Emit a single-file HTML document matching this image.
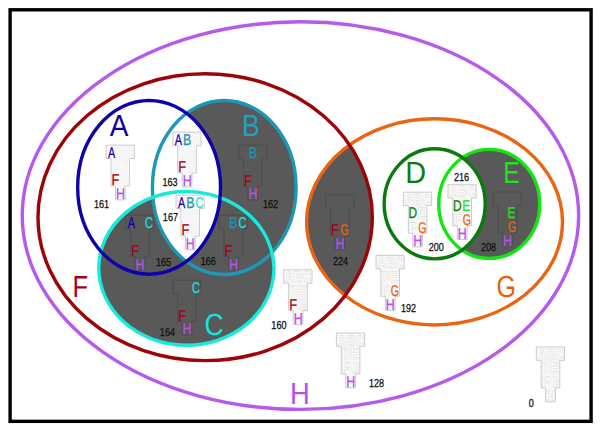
<!DOCTYPE html><html><head><meta charset="utf-8"><style>html,body{margin:0;padding:0;background:#fff;width:601px;height:432px;overflow:hidden}svg{display:block;font-family:"Liberation Sans",sans-serif;text-rendering:geometricPrecision}</style></head><body><svg width="601" height="432" viewBox="0 0 601 432">
<defs>
<clipPath id="clipA"><ellipse cx="149.1" cy="187.34" rx="71.43" ry="86.87"/></clipPath>
<clipPath id="clipF"><ellipse cx="205.16" cy="217.22" rx="167.17" ry="143.43"/></clipPath>
<clipPath id="clipD"><ellipse cx="434.67" cy="203.79" rx="50.53" ry="55.06"/></clipPath>
</defs>
<rect x="0" y="0" width="601" height="432" fill="#fff"/>
<ellipse cx="224.23" cy="187.45" rx="71.83" ry="87.02" fill="#595959"/>
<ellipse cx="186.35" cy="268.35" rx="87.54" ry="76.84" transform="rotate(0.87 186.35 268.35)" fill="#595959"/>
<g clip-path="url(#clipF)"><ellipse cx="434.57" cy="221.86" rx="127.96" ry="103.07" fill="#595959"/></g>
<ellipse cx="489.25" cy="203.95" rx="50.5" ry="54.6" fill="#595959"/>
<g clip-path="url(#clipA)"><ellipse cx="224.23" cy="187.45" rx="71.83" ry="87.02" fill="#fff"/></g>
<g clip-path="url(#clipD)"><ellipse cx="489.25" cy="203.95" rx="50.5" ry="54.6" fill="#fff"/></g>
<path d="M106.1,145.1h28.2v13.4h-4.7v27.5h-4.4v13.9h-9.7v-13.9h-4.5v-27.5h-4.9z" fill="#f7f7f7" stroke="#c6c6c6" stroke-width="0.9"/>
<g font-size="15.5" fill="#fff" stroke="#ebebeb" stroke-width="0.5" font-weight="bold" text-anchor="middle"><text transform="translate(120.5,157.6) scale(0.8,1)">B</text><text transform="translate(129.4,157.6) scale(0.7,1)">C</text><text transform="translate(115.5,171.3) scale(0.77,1)">D</text><text transform="translate(124.3,171.3) scale(0.77,1)">E</text><text transform="translate(125.0,185.4) scale(0.68,1)">G</text></g>
<g font-size="15.5" text-anchor="middle"><text fill="#1400aa" stroke="#1400aa" stroke-width="0.25" transform="translate(111.7,157.6) scale(0.7,1)">A</text><text fill="#a8001a" stroke="#a8001a" stroke-width="0.25" transform="translate(115.5,185.4) scale(0.83,1)">F</text><text fill="#b452e8" stroke="#b452e8" stroke-width="0.25" transform="translate(120.4,199.3) scale(0.8,1)">H</text></g>
<text font-size="11.6" fill="#111" stroke="#111" stroke-width="0.3" text-anchor="middle" transform="translate(101.5,207.6) scale(0.78,1)">161</text>
<path d="M172.8,132.1h28.2v13.4h-4.7v27.5h-4.4v13.9h-9.7v-13.9h-4.5v-27.5h-4.9z" fill="#f7f7f7" stroke="#c6c6c6" stroke-width="0.9"/>
<g font-size="15.5" fill="#fff" stroke="#ebebeb" stroke-width="0.5" font-weight="bold" text-anchor="middle"><text transform="translate(196.1,144.6) scale(0.7,1)">C</text><text transform="translate(182.2,158.3) scale(0.77,1)">D</text><text transform="translate(191.0,158.3) scale(0.77,1)">E</text><text transform="translate(191.7,172.4) scale(0.68,1)">G</text></g>
<g font-size="15.5" text-anchor="middle"><text fill="#1400aa" stroke="#1400aa" stroke-width="0.25" transform="translate(178.4,144.6) scale(0.7,1)">A</text><text fill="#1c93b0" stroke="#1c93b0" stroke-width="0.25" transform="translate(187.2,144.6) scale(0.8,1)">B</text><text fill="#a8001a" stroke="#a8001a" stroke-width="0.25" transform="translate(182.2,172.4) scale(0.83,1)">F</text><text fill="#b452e8" stroke="#b452e8" stroke-width="0.25" transform="translate(187.1,186.3) scale(0.8,1)">H</text></g>
<text font-size="11.6" fill="#111" stroke="#111" stroke-width="0.3" text-anchor="middle" transform="translate(170.0,185.7) scale(0.78,1)">163</text>
<path d="M238.6,145.2h28.2v13.4h-4.7v27.5h-4.4v13.9h-9.7v-13.9h-4.5v-27.5h-4.9z" fill="none" stroke="#4a4a4a" stroke-width="0.8"/>
<g font-size="15.5" text-anchor="middle"><text fill="#1c93b0" stroke="#1c93b0" stroke-width="0.25" transform="translate(253.0,157.7) scale(0.8,1)">B</text><text fill="#a8001a" stroke="#a8001a" stroke-width="0.25" transform="translate(248.0,185.5) scale(0.83,1)">F</text><text fill="#b452e8" stroke="#b452e8" stroke-width="0.25" transform="translate(252.9,199.4) scale(0.8,1)">H</text></g>
<text font-size="11.6" fill="#111" stroke="#111" stroke-width="0.3" text-anchor="middle" transform="translate(270.6,207.6) scale(0.78,1)">162</text>
<path d="M176.0,195.1h28.2v13.4h-4.7v27.5h-4.4v13.9h-9.7v-13.9h-4.5v-27.5h-4.9z" fill="#f7f7f7" stroke="#c6c6c6" stroke-width="0.9"/>
<g font-size="15.5" fill="#fff" stroke="#ebebeb" stroke-width="0.5" font-weight="bold" text-anchor="middle"><text transform="translate(185.4,221.3) scale(0.77,1)">D</text><text transform="translate(194.2,221.3) scale(0.77,1)">E</text><text transform="translate(194.9,235.4) scale(0.68,1)">G</text></g>
<g font-size="15.5" text-anchor="middle"><text fill="#1400aa" stroke="#1400aa" stroke-width="0.25" transform="translate(181.6,207.6) scale(0.7,1)">A</text><text fill="#1c93b0" stroke="#1c93b0" stroke-width="0.25" transform="translate(190.4,207.6) scale(0.8,1)">B</text><text fill="#10e6e6" stroke="#10e6e6" stroke-width="0.25" transform="translate(199.3,207.6) scale(0.7,1)">C</text><text fill="#a8001a" stroke="#a8001a" stroke-width="0.25" transform="translate(185.4,235.4) scale(0.83,1)">F</text><text fill="#b452e8" stroke="#b452e8" stroke-width="0.25" transform="translate(190.3,249.3) scale(0.8,1)">H</text></g>
<text font-size="11.6" fill="#111" stroke="#111" stroke-width="0.3" text-anchor="middle" transform="translate(170.4,220.8) scale(0.78,1)">167</text>
<path d="M125.7,215.3h28.2v13.4h-4.7v27.5h-4.4v13.9h-9.7v-13.9h-4.5v-27.5h-4.9z" fill="none" stroke="#4a4a4a" stroke-width="0.8"/>
<g font-size="15.5" text-anchor="middle"><text fill="#1400aa" stroke="#1400aa" stroke-width="0.25" transform="translate(131.3,227.8) scale(0.7,1)">A</text><text fill="#10e6e6" stroke="#10e6e6" stroke-width="0.25" transform="translate(149.0,227.8) scale(0.7,1)">C</text><text fill="#a8001a" stroke="#a8001a" stroke-width="0.25" transform="translate(135.1,255.6) scale(0.83,1)">F</text><text fill="#b452e8" stroke="#b452e8" stroke-width="0.25" transform="translate(140.0,269.5) scale(0.8,1)">H</text></g>
<text font-size="11.6" fill="#111" stroke="#111" stroke-width="0.3" text-anchor="middle" transform="translate(163.5,265.7) scale(0.78,1)">165</text>
<path d="M219.1,215.3h28.2v13.4h-4.7v27.5h-4.4v13.9h-9.7v-13.9h-4.5v-27.5h-4.9z" fill="none" stroke="#4a4a4a" stroke-width="0.8"/>
<g font-size="15.5" text-anchor="middle"><text fill="#1c93b0" stroke="#1c93b0" stroke-width="0.25" transform="translate(233.5,227.8) scale(0.8,1)">B</text><text fill="#10e6e6" stroke="#10e6e6" stroke-width="0.25" transform="translate(242.4,227.8) scale(0.7,1)">C</text><text fill="#a8001a" stroke="#a8001a" stroke-width="0.25" transform="translate(228.5,255.6) scale(0.83,1)">F</text><text fill="#b452e8" stroke="#b452e8" stroke-width="0.25" transform="translate(233.4,269.5) scale(0.8,1)">H</text></g>
<text font-size="11.6" fill="#111" stroke="#111" stroke-width="0.3" text-anchor="middle" transform="translate(208.3,265.2) scale(0.78,1)">166</text>
<path d="M172.7,280.2h28.2v13.4h-4.7v27.5h-4.4v13.9h-9.7v-13.9h-4.5v-27.5h-4.9z" fill="none" stroke="#4a4a4a" stroke-width="0.8"/>
<g font-size="15.5" text-anchor="middle"><text fill="#10e6e6" stroke="#10e6e6" stroke-width="0.25" transform="translate(196.0,292.7) scale(0.7,1)">C</text><text fill="#a8001a" stroke="#a8001a" stroke-width="0.25" transform="translate(182.1,320.5) scale(0.83,1)">F</text><text fill="#b452e8" stroke="#b452e8" stroke-width="0.25" transform="translate(187.0,334.4) scale(0.8,1)">H</text></g>
<text font-size="11.6" fill="#111" stroke="#111" stroke-width="0.3" text-anchor="middle" transform="translate(167.4,335.6) scale(0.78,1)">164</text>
<path d="M283.8,269.8h28.2v13.4h-4.7v27.5h-4.4v13.9h-9.7v-13.9h-4.5v-27.5h-4.9z" fill="#f7f7f7" stroke="#c6c6c6" stroke-width="0.9"/>
<g font-size="15.5" fill="#fff" stroke="#d8d8d8" stroke-width="0.5" font-weight="bold" text-anchor="middle"><text transform="translate(289.4,282.3) scale(0.7,1)">A</text><text transform="translate(298.2,282.3) scale(0.8,1)">B</text><text transform="translate(307.1,282.3) scale(0.7,1)">C</text><text transform="translate(293.2,296.0) scale(0.77,1)">D</text><text transform="translate(302.0,296.0) scale(0.77,1)">E</text><text transform="translate(302.7,310.1) scale(0.68,1)">G</text></g>
<g font-size="15.5" text-anchor="middle"><text fill="#a8001a" stroke="#a8001a" stroke-width="0.25" transform="translate(293.2,310.1) scale(0.83,1)">F</text><text fill="#b452e8" stroke="#b452e8" stroke-width="0.25" transform="translate(298.1,324.0) scale(0.8,1)">H</text></g>
<text font-size="11.6" fill="#111" stroke="#111" stroke-width="0.3" text-anchor="middle" transform="translate(278.9,328.5) scale(0.78,1)">160</text>
<path d="M325.6,194.8h28.2v13.4h-4.7v27.5h-4.4v13.9h-9.7v-13.9h-4.5v-27.5h-4.9z" fill="none" stroke="#4a4a4a" stroke-width="0.8"/>
<g font-size="15.5" text-anchor="middle"><text fill="#a8001a" stroke="#a8001a" stroke-width="0.25" transform="translate(335.0,235.1) scale(0.83,1)">F</text><text fill="#e8620e" stroke="#e8620e" stroke-width="0.25" transform="translate(344.5,235.1) scale(0.68,1)">G</text><text fill="#b452e8" stroke="#b452e8" stroke-width="0.25" transform="translate(339.9,249.0) scale(0.8,1)">H</text></g>
<text font-size="11.6" fill="#111" stroke="#111" stroke-width="0.3" text-anchor="middle" transform="translate(340.5,265.4) scale(0.78,1)">224</text>
<path d="M403.4,192.2h28.2v13.4h-4.7v27.5h-4.4v13.9h-9.7v-13.9h-4.5v-27.5h-4.9z" fill="#f7f7f7" stroke="#c6c6c6" stroke-width="0.9"/>
<g font-size="15.5" fill="#fff" stroke="#d8d8d8" stroke-width="0.5" font-weight="bold" text-anchor="middle"><text transform="translate(409.0,204.7) scale(0.7,1)">A</text><text transform="translate(417.8,204.7) scale(0.8,1)">B</text><text transform="translate(426.7,204.7) scale(0.7,1)">C</text><text transform="translate(421.6,218.4) scale(0.77,1)">E</text><text transform="translate(412.8,232.5) scale(0.83,1)">F</text></g>
<g font-size="15.5" text-anchor="middle"><text fill="#0a7d0a" stroke="#0a7d0a" stroke-width="0.25" transform="translate(412.8,218.4) scale(0.77,1)">D</text><text fill="#e8620e" stroke="#e8620e" stroke-width="0.25" transform="translate(422.3,232.5) scale(0.68,1)">G</text><text fill="#b452e8" stroke="#b452e8" stroke-width="0.25" transform="translate(417.7,246.4) scale(0.8,1)">H</text></g>
<text font-size="11.6" fill="#111" stroke="#111" stroke-width="0.3" text-anchor="middle" transform="translate(436.2,251.0) scale(0.78,1)">200</text>
<path d="M448.0,184.7h28.2v13.4h-4.7v27.5h-4.4v13.9h-9.7v-13.9h-4.5v-27.5h-4.9z" fill="#f7f7f7" stroke="#c6c6c6" stroke-width="0.9"/>
<g font-size="15.5" fill="#fff" stroke="#d8d8d8" stroke-width="0.5" font-weight="bold" text-anchor="middle"><text transform="translate(453.6,197.2) scale(0.7,1)">A</text><text transform="translate(462.4,197.2) scale(0.8,1)">B</text><text transform="translate(471.3,197.2) scale(0.7,1)">C</text><text transform="translate(457.4,225.0) scale(0.83,1)">F</text></g>
<g font-size="15.5" text-anchor="middle"><text fill="#0a7d0a" stroke="#0a7d0a" stroke-width="0.25" transform="translate(457.4,210.9) scale(0.77,1)">D</text><text fill="#22e022" stroke="#22e022" stroke-width="0.25" transform="translate(466.2,210.9) scale(0.77,1)">E</text><text fill="#e8620e" stroke="#e8620e" stroke-width="0.25" transform="translate(466.9,225.0) scale(0.68,1)">G</text><text fill="#b452e8" stroke="#b452e8" stroke-width="0.25" transform="translate(462.3,238.9) scale(0.8,1)">H</text></g>
<text font-size="11.6" fill="#111" stroke="#111" stroke-width="0.3" text-anchor="middle" transform="translate(461.5,180.5) scale(0.78,1)">216</text>
<path d="M493.2,192.0h28.2v13.4h-4.7v27.5h-4.4v13.9h-9.7v-13.9h-4.5v-27.5h-4.9z" fill="none" stroke="#4a4a4a" stroke-width="0.8"/>
<g font-size="15.5" text-anchor="middle"><text fill="#22e022" stroke="#22e022" stroke-width="0.25" transform="translate(511.4,218.2) scale(0.77,1)">E</text><text fill="#e8620e" stroke="#e8620e" stroke-width="0.25" transform="translate(512.1,232.3) scale(0.68,1)">G</text><text fill="#b452e8" stroke="#b452e8" stroke-width="0.25" transform="translate(507.5,246.2) scale(0.8,1)">H</text></g>
<text font-size="11.6" fill="#111" stroke="#111" stroke-width="0.3" text-anchor="middle" transform="translate(488.6,251.3) scale(0.78,1)">208</text>
<path d="M376.0,255.4h28.2v13.4h-4.7v27.5h-4.4v13.9h-9.7v-13.9h-4.5v-27.5h-4.9z" fill="#f7f7f7" stroke="#c6c6c6" stroke-width="0.9"/>
<g font-size="15.5" fill="#fff" stroke="#d8d8d8" stroke-width="0.5" font-weight="bold" text-anchor="middle"><text transform="translate(381.6,267.9) scale(0.7,1)">A</text><text transform="translate(390.4,267.9) scale(0.8,1)">B</text><text transform="translate(399.3,267.9) scale(0.7,1)">C</text><text transform="translate(385.4,281.6) scale(0.77,1)">D</text><text transform="translate(394.2,281.6) scale(0.77,1)">E</text><text transform="translate(385.4,295.7) scale(0.83,1)">F</text></g>
<g font-size="15.5" text-anchor="middle"><text fill="#e8620e" stroke="#e8620e" stroke-width="0.25" transform="translate(394.9,295.7) scale(0.68,1)">G</text><text fill="#b452e8" stroke="#b452e8" stroke-width="0.25" transform="translate(390.3,309.6) scale(0.8,1)">H</text></g>
<text font-size="11.6" fill="#111" stroke="#111" stroke-width="0.3" text-anchor="middle" transform="translate(408.6,312.2) scale(0.78,1)">192</text>
<path d="M336.4,333.0h28.2v13.4h-4.7v27.5h-4.4v13.9h-9.7v-13.9h-4.5v-27.5h-4.9z" fill="#f7f7f7" stroke="#c6c6c6" stroke-width="0.9"/>
<g font-size="15.5" fill="#fff" stroke="#d8d8d8" stroke-width="0.5" font-weight="bold" text-anchor="middle"><text transform="translate(342.0,345.5) scale(0.7,1)">A</text><text transform="translate(350.8,345.5) scale(0.8,1)">B</text><text transform="translate(359.7,345.5) scale(0.7,1)">C</text><text transform="translate(345.8,359.2) scale(0.77,1)">D</text><text transform="translate(354.6,359.2) scale(0.77,1)">E</text><text transform="translate(345.8,373.3) scale(0.83,1)">F</text><text transform="translate(355.3,373.3) scale(0.68,1)">G</text></g>
<g font-size="15.5" text-anchor="middle"><text fill="#b452e8" stroke="#b452e8" stroke-width="0.25" transform="translate(350.7,387.2) scale(0.8,1)">H</text></g>
<text font-size="11.6" fill="#111" stroke="#111" stroke-width="0.3" text-anchor="middle" transform="translate(376.5,386.7) scale(0.78,1)">128</text>
<path d="M536.3,347.0h28.2v13.4h-4.7v27.5h-4.4v13.9h-9.7v-13.9h-4.5v-27.5h-4.9z" fill="#f7f7f7" stroke="#c6c6c6" stroke-width="0.9"/>
<g font-size="15.5" fill="#fff" stroke="#d8d8d8" stroke-width="0.5" font-weight="bold" text-anchor="middle"><text transform="translate(541.9,359.5) scale(0.7,1)">A</text><text transform="translate(550.7,359.5) scale(0.8,1)">B</text><text transform="translate(559.6,359.5) scale(0.7,1)">C</text><text transform="translate(545.7,373.2) scale(0.77,1)">D</text><text transform="translate(554.5,373.2) scale(0.77,1)">E</text><text transform="translate(545.7,387.3) scale(0.83,1)">F</text><text transform="translate(555.2,387.3) scale(0.68,1)">G</text><text transform="translate(550.6,401.2) scale(0.8,1)">H</text></g>
<g font-size="15.5" text-anchor="middle"></g>
<text font-size="11.6" fill="#111" stroke="#111" stroke-width="0.3" text-anchor="middle" transform="translate(531.2,407.2) scale(0.78,1)">0</text>
<ellipse cx="300.45" cy="215.59" rx="278.21" ry="193.83" fill="none" stroke="#b45aec" stroke-width="3.4"/>
<ellipse cx="434.57" cy="221.86" rx="127.96" ry="103.07" fill="none" stroke="#ea6412" stroke-width="3.4"/>
<ellipse cx="205.16" cy="217.22" rx="167.17" ry="143.43" fill="none" stroke="#9c0408" stroke-width="3.4"/>
<ellipse cx="224.23" cy="187.45" rx="71.83" ry="87.02" fill="none" stroke="#1c98b6" stroke-width="3.4"/>
<ellipse cx="186.35" cy="268.35" rx="87.54" ry="76.84" transform="rotate(0.87 186.35 268.35)" fill="none" stroke="#16eadc" stroke-width="3.4"/>
<ellipse cx="149.1" cy="187.34" rx="71.43" ry="86.87" fill="none" stroke="#1000aa" stroke-width="3.4"/>
<ellipse cx="489.25" cy="203.95" rx="50.5" ry="54.6" fill="none" stroke="#14e614" stroke-width="3.4"/>
<ellipse cx="434.67" cy="203.79" rx="50.53" ry="55.06" fill="none" stroke="#0a7a0c" stroke-width="3.4"/>
<text transform="translate(119.0,135.6) scale(0.92,1)" font-size="30.4" fill="#1400aa" text-anchor="middle">A</text>
<text transform="translate(251.0,135.6) scale(0.88,1)" font-size="30.4" fill="#1fa0c0" text-anchor="middle">B</text>
<text transform="translate(214.0,335.0) scale(0.87,1)" font-size="30.4" fill="#10e6e6" text-anchor="middle">C</text>
<text transform="translate(415.6,183.3) scale(0.95,1)" font-size="30.4" fill="#0a7d0a" text-anchor="middle">D</text>
<text transform="translate(511.5,183.3) scale(0.81,1)" font-size="30.4" fill="#22e022" text-anchor="middle">E</text>
<text transform="translate(80.2,297.0) scale(0.84,1)" font-size="30.4" fill="#a8001a" text-anchor="middle">F</text>
<text transform="translate(506.1,297.0) scale(0.82,1)" font-size="30.4" fill="#e8620e" text-anchor="middle">G</text>
<text transform="translate(299.9,404.0) scale(0.9,1)" font-size="30.4" fill="#b452e8" text-anchor="middle">H</text>
<rect x="10.1" y="9.8" width="581" height="411.55" fill="none" stroke="#000" stroke-width="3.4"/>
</svg></body></html>
